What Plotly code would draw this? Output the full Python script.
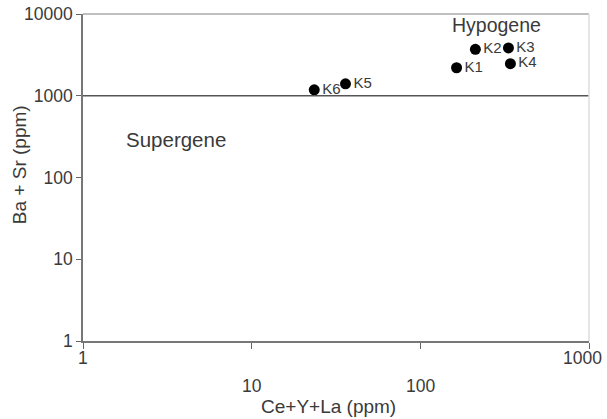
import math
import plotly.graph_objects as go

# Data
samples = ["K1", "K2", "K3", "K4", "K5", "K6"]
ce_y_la = [164, 212, 333, 342, 36, 23.5]
ba_sr = [2200, 3700, 3850, 2470, 1400, 1180]

x_tickvals = [1, 10, 100, 1000]
x_ticktext = ["1", "10", "100", "1000"]
y_tickvals = [1, 10, 100, 1000, 10000]
y_ticktext = ["1", "10", "100", "1000", "10000"]
threshold = 1000

font_family = "Liberation Sans, Arial, sans-serif"
text_color = "#3a3a3a"

fig = go.Figure()
fig.add_trace(go.Scatter(
    x=ce_y_la, y=ba_sr, mode="markers+text",
    text=samples, textposition="middle right",
    textfont=dict(family=font_family, size=15, color=text_color),
    marker=dict(color="black", size=11),
    hoverinfo="skip", showlegend=False, cliponaxis=False,
))

fig.add_shape(type="line", xref="paper", yref="y", x0=0, x1=1, y0=threshold, y1=threshold,
              line=dict(color="#555555", width=1.6))
fig.add_shape(type="line", xref="paper", yref="paper", x0=0, x1=1, y0=1, y1=1,
              line=dict(color="#aaaaaa", width=1.5))
fig.add_shape(type="line", xref="paper", yref="paper", x0=1, x1=1, y0=0, y1=1,
              line=dict(color="#dddddd", width=1.5))

fig.add_annotation(x=2.45, y=3.86, xref="x", yref="y", text="Hypogene", showarrow=False,
                   xanchor="center", yanchor="middle",
                   font=dict(family=font_family, size=19.5, color=text_color))
fig.add_annotation(x=0.55, y=2.47, xref="x", yref="y", text="Supergene", showarrow=False,
                   xanchor="center", yanchor="middle",
                   font=dict(family=font_family, size=20.5, color=text_color))

# X tick labels (staggered: inner labels on a lower row), drawn from the tick arrays
n = len(x_tickvals)
for i, (v, t) in enumerate(zip(x_tickvals, x_ticktext)):
    inner = 0 < i < n - 1
    last = i == n - 1
    fig.add_annotation(x=math.log10(v), y=0, xref="x", yref="paper", text=t, showarrow=False,
                       xanchor="right" if last else "center", xshift=15 if last else 0,
                       yanchor="top", yshift=-5 - (28 if inner else 0),
                       font=dict(family=font_family, size=17.5, color=text_color))

# Axis titles as annotations for exact placement
fig.add_annotation(x=0.486, y=-0.2, xref="paper", yref="paper", text="Ce+Y+La (ppm)",
                   showarrow=False, xanchor="center", yanchor="middle",
                   font=dict(family=font_family, size=19, color=text_color))
fig.add_annotation(x=-0.125, y=0.54, xref="paper", yref="paper", text="Ba + Sr (ppm)",
                   showarrow=False, textangle=-90, xanchor="center", yanchor="middle",
                   font=dict(family=font_family, size=19, color=text_color))

fig.update_layout(
    width=607, height=419,
    margin=dict(l=83, r=18, t=14, b=78),
    plot_bgcolor="white", paper_bgcolor="white",
    font=dict(family=font_family, color=text_color),
    xaxis=dict(
        type="log", range=[0, 3], tickvals=x_tickvals, showticklabels=False,
        ticks="outside", ticklen=6, tickcolor="#666666", showgrid=False, zeroline=False,
        showline=True, linecolor="#777777", linewidth=1.5, automargin=False,
    ),
    yaxis=dict(
        type="log", range=[0, 4], tickvals=y_tickvals, ticktext=y_ticktext,
        ticks="outside", ticklen=5, tickcolor="#666666", showgrid=False, zeroline=False,
        showline=True, linecolor="#777777", linewidth=1.5, automargin=False,
        tickfont=dict(size=17.5, color=text_color),
    ),
)

fig.write_html("out.html")
